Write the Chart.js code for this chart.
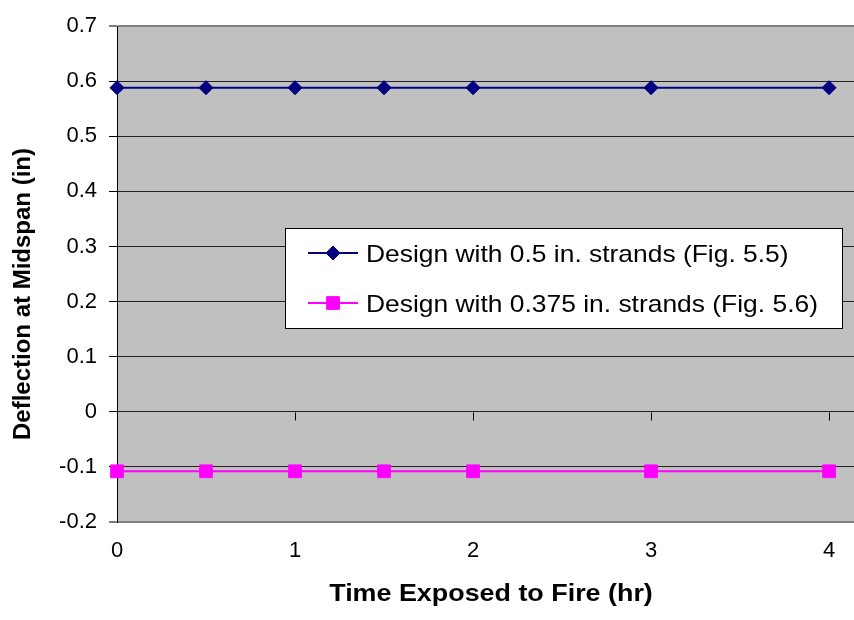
<!DOCTYPE html>
<html>
<head>
<meta charset="utf-8">
<script src="https://cdn.jsdelivr.net/npm/chart.js@4/dist/chart.umd.min.js"></script>
<style>
  html, body { margin: 0; padding: 0; background: #fff; }
  #wrap { width: 854px; height: 620px; }
</style>
</head>
<body>
<div id="wrap"><canvas id="deflChart" width="854" height="620"></canvas></div>
<script>
// dados
const times = [0, 0.5, 1, 1.5, 2, 3, 4];
const deflHalf = [0.588, 0.588, 0.588, 0.588, 0.588, 0.588, 0.588];
const defl375 = [-0.108, -0.108, -0.108, -0.108, -0.108, -0.108, -0.108];
const xTicks = [0, 1, 2, 3, 4];
const seriesNames = ['Design with 0.5 in. strands (Fig. 5.5)', 'Design with 0.375 in. strands (Fig. 5.6)'];
const yTitle = 'Deflection at Midspan (in)';
const xTitle = 'Time Exposed to Fire (hr)';

const fontFam = "'Liberation Sans', Arial, sans-serif";
const navy = '#000080';
const magenta = '#FF00FF';

// fundo cinza + marcas do eixo x em y=0
const plotBg = {
  id: 'plotBg',
  beforeDraw(chart) {
    const { ctx, chartArea: a } = chart;
    ctx.save();
    ctx.fillStyle = '#C0C0C0';
    ctx.fillRect(a.left, a.top, a.right - a.left, a.bottom - a.top);
    ctx.restore();
  },
  beforeDatasetsDraw(chart) {
    const { ctx, scales: { x, y } } = chart;
    const y0 = Math.round(y.getPixelForValue(0)) + 0.5;
    ctx.save();
    ctx.strokeStyle = '#000';
    ctx.lineWidth = 1;
    xTicks.forEach(v => {
      const px = Math.round(x.getPixelForValue(v)) + 0.5;
      ctx.beginPath();
      ctx.moveTo(px, y0);
      ctx.lineTo(px, y0 + 8);
      ctx.stroke();
    });
    ctx.restore();
  },
  afterDraw(chart) {
    // títulos dos eixos
    const { ctx } = chart;
    ctx.save();
    ctx.fillStyle = '#000';
    ctx.textAlign = 'center';
    ctx.textBaseline = 'middle';
    ctx.font = 'bold 24px ' + fontFam;
    ctx.translate(23, 294);
    ctx.rotate(-Math.PI / 2);
    ctx.fillText(yTitle, 0, 0);
    ctx.restore();
    ctx.save();
    ctx.fillStyle = '#000';
    ctx.textAlign = 'center';
    ctx.textBaseline = 'middle';
    ctx.font = 'bold 24px ' + fontFam;
    ctx.translate(491, 594);
    ctx.scale(1.12, 1);
    ctx.fillText(xTitle, 0, 0);
    ctx.restore();
  }
};

// legenda dentro da área do gráfico
const boxLegend = {
  id: 'boxLegend',
  afterDatasetsDraw(chart) {
    const { ctx } = chart;
    const bx = 285.5, by = 228.5, bw = 557, bh = 100;
    ctx.save();
    ctx.fillStyle = '#fff';
    ctx.fillRect(bx, by, bw, bh);
    ctx.strokeStyle = '#000';
    ctx.lineWidth = 1;
    ctx.strokeRect(bx, by, bw, bh);
    const rows = [253, 303];
    chart.data.datasets.forEach((ds, i) => {
      const ry = rows[i];
      ctx.strokeStyle = ds.borderColor;
      ctx.lineWidth = 2;
      ctx.beginPath();
      ctx.moveTo(308, ry);
      ctx.lineTo(358, ry);
      ctx.stroke();
      ctx.fillStyle = ds.pointBackgroundColor;
      ctx.strokeStyle = ds.pointBorderColor;
      ctx.lineWidth = 1;
      Chart.helpers.drawPoint(ctx, { pointStyle: ds.pointStyle, radius: ds.pointRadius, rotation: 0, borderWidth: 1 }, 333, ry);
      ctx.save();
      ctx.fillStyle = '#000';
      ctx.font = '24px ' + fontFam;
      ctx.textAlign = 'left';
      ctx.textBaseline = 'alphabetic';
      ctx.translate(366, ry + 9);
      ctx.scale(1.1, 1);
      ctx.fillText(ds.label, 0, 0);
      ctx.restore();
    });
    ctx.restore();
  }
};

new Chart(document.getElementById('deflChart'), {
  type: 'line',
  data: {
    datasets: [
      {
        label: seriesNames[0],
        data: times.map((t, i) => ({ x: t, y: deflHalf[i] })),
        borderColor: navy, backgroundColor: navy,
        pointBackgroundColor: navy, pointBorderColor: navy,
        borderWidth: 2, pointStyle: 'rectRot', pointRadius: 7, pointBorderWidth: 1,
        clip: false
      },
      {
        label: seriesNames[1],
        data: times.map((t, i) => ({ x: t, y: defl375[i] })),
        borderColor: magenta, backgroundColor: magenta,
        pointBackgroundColor: magenta, pointBorderColor: magenta,
        borderWidth: 2, pointStyle: 'rect', pointRadius: 9, pointBorderWidth: 1,
        clip: false
      }
    ]
  },
  options: {
    responsive: false,
    animation: false,
    layout: { autoPadding: false, padding: { left: 0, right: 0, top: 26, bottom: 0 } },
    plugins: { legend: { display: false }, tooltip: { enabled: false } },
    scales: {
      x: {
        type: 'linear',
        min: 0,
        max: 4.14,
        afterBuildTicks: s => { s.ticks = xTicks.map(v => ({ value: v })); },
        afterFit: s => { s.height = 98; s.paddingLeft = 0; s.paddingRight = 0; },
        grid: { display: false },
        border: { display: false },
        ticks: { color: '#000', font: { family: fontFam, size: 22 }, padding: 8, maxRotation: 0 }
      },
      y: {
        min: -0.2,
        max: 0.7,
        afterFit: s => { s.width = 117; },
        ticks: {
          stepSize: 0.1, color: '#000', padding: 12,
          font: { family: fontFam, size: 22 },
          callback: v => String(Number(v.toFixed(1)))
        },
        grid: {
          color: c => (c.tick && (Math.abs(c.tick.value - 0.7) < 1e-6 || Math.abs(c.tick.value + 0.2) < 1e-6)) ? '#808080' : '#222',
          lineWidth: c => (c.tick && (Math.abs(c.tick.value - 0.7) < 1e-6 || Math.abs(c.tick.value + 0.2) < 1e-6)) ? 2 : 1,
          tickColor: '#000', tickWidth: 1, tickLength: 8
        },
        border: { display: true, color: '#000', width: 1 }
      }
    }
  },
  plugins: [plotBg, boxLegend]
});
</script>
</body>
</html>
